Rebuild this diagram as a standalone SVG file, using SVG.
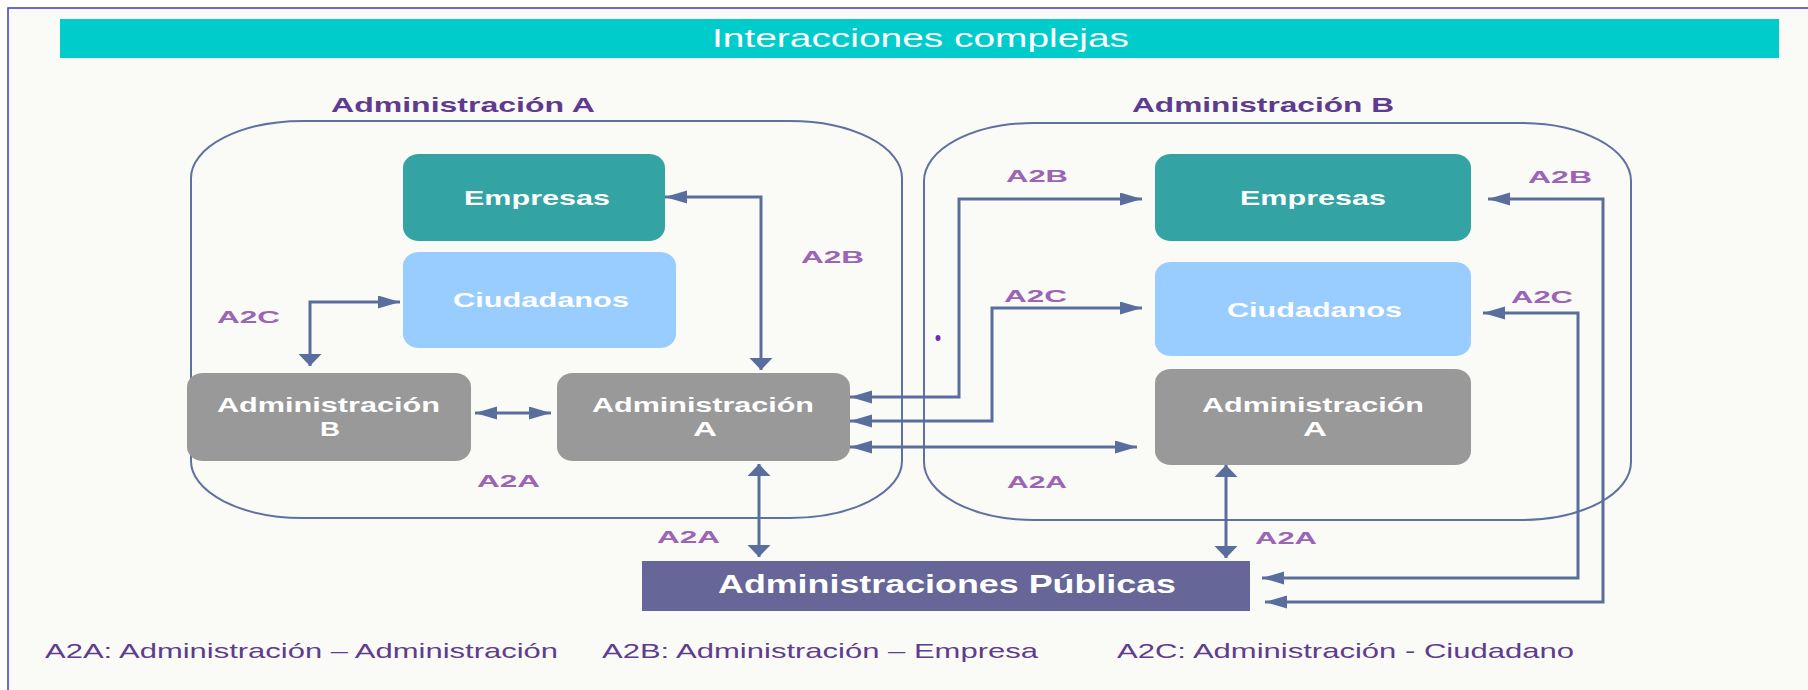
<svg xmlns="http://www.w3.org/2000/svg" width="1808" height="690" viewBox="0 0 1808 690">
  <defs>
    <marker id="ah" markerUnits="userSpaceOnUse" markerWidth="24" markerHeight="14" refX="22" refY="6.5" orient="auto-start-reverse">
      <path d="M0,0 L22,6.5 L0,13 z" fill="#5A6E9E"/>
    </marker>
    <marker id="av" markerUnits="userSpaceOnUse" markerWidth="14" markerHeight="24" refX="12" refY="11.5" orient="auto-start-reverse">
      <path d="M0,0 L12,11.5 L0,23 z" fill="#5A6E9E"/>
    </marker>
    <style>
      .conn { fill: none; stroke: #5A6E9E; stroke-width: 3; }
      .cont { fill: none; stroke: #6070A0; stroke-width: 2; }
      .nt { font-family: "Liberation Sans", Arial, sans-serif; font-weight: bold; fill: #FFFFFF; }
      .lbl { font-family: "Liberation Sans", Arial, sans-serif; font-weight: bold; font-size: 17px; fill: #9B64B4; }
      .clbl { font-family: "Liberation Sans", Arial, sans-serif; font-weight: bold; font-size: 21px; fill: #5E3B8E; }
      .leg { font-family: "Liberation Sans", Arial, sans-serif; font-size: 21px; fill: #5E3C8E; }
    </style>
  </defs>

  <rect x="0" y="0" width="1808" height="690" fill="#FFFFFF"/>
  <rect x="8" y="8" width="1800" height="682" fill="#FAFAF6"/>
  <path d="M8,690 V8 H1808" fill="none" stroke="#3A3ACC" stroke-width="1.5"/>

  <g id="banner">
    <rect x="60" y="19" width="1719" height="39" fill="#00CCCC"/>
    <text x="712" y="47" font-family="Liberation Sans, Arial, sans-serif" font-size="26" fill="#FFFFFF" textLength="417" lengthAdjust="spacingAndGlyphs">Interacciones complejas</text>
  </g>

  <g id="container-A">
    <rect class="cont" x="191" y="121" width="711" height="397" rx="112" ry="57"/>
    <text class="clbl" x="331" y="112" textLength="264" lengthAdjust="spacingAndGlyphs">Administración  A</text>
  </g>
  <g id="container-B">
    <rect class="cont" x="924" y="123" width="707" height="397" rx="110" ry="58"/>
    <text class="clbl" x="1132" y="112" textLength="262" lengthAdjust="spacingAndGlyphs">Administración  B</text>
  </g>

  <g id="connectors">
    <path class="conn" d="M310,366 V302 H400" marker-start="url(#av)" marker-end="url(#ah)"/>
    <path class="conn" d="M665,197 H761 V370" marker-start="url(#ah)" marker-end="url(#av)"/>
    <path class="conn" d="M475,413 H551" marker-start="url(#ah)" marker-end="url(#ah)"/>
    <path class="conn" d="M759,464 V557" marker-start="url(#av)" marker-end="url(#av)"/>
    <path class="conn" d="M850,397 H959 V199 H1142" marker-start="url(#ah)" marker-end="url(#ah)"/>
    <path class="conn" d="M850,421 H992 V308 H1142" marker-start="url(#ah)" marker-end="url(#ah)"/>
    <path class="conn" d="M850,447 H1137" marker-start="url(#ah)" marker-end="url(#ah)"/>
    <path class="conn" d="M1488,199 H1603 V602 H1265" marker-start="url(#ah)" marker-end="url(#ah)"/>
    <path class="conn" d="M1483,313 H1578 V578 H1262" marker-start="url(#ah)" marker-end="url(#ah)"/>
    <path class="conn" d="M1226,465 V558" marker-start="url(#av)" marker-end="url(#av)"/>
  </g>

  <g id="labels">
    <text class="lbl" x="217" y="323" textLength="63" lengthAdjust="spacingAndGlyphs">A2C</text>
    <text class="lbl" x="801" y="263" textLength="63" lengthAdjust="spacingAndGlyphs">A2B</text>
    <text class="lbl" x="477" y="487" textLength="63" lengthAdjust="spacingAndGlyphs">A2A</text>
    <text class="lbl" x="657" y="543" textLength="63" lengthAdjust="spacingAndGlyphs">A2A</text>
    <text class="lbl" x="1006" y="182" textLength="62" lengthAdjust="spacingAndGlyphs">A2B</text>
    <text class="lbl" x="1004" y="302" textLength="63" lengthAdjust="spacingAndGlyphs">A2C</text>
    <text class="lbl" x="1007" y="488" textLength="60" lengthAdjust="spacingAndGlyphs">A2A</text>
    <text class="lbl" x="1255" y="544" textLength="62" lengthAdjust="spacingAndGlyphs">A2A</text>
    <text class="lbl" x="1528" y="183" textLength="64" lengthAdjust="spacingAndGlyphs">A2B</text>
    <text class="lbl" x="1511" y="303" textLength="62" lengthAdjust="spacingAndGlyphs">A2C</text>
  </g>

  <g id="empresas-A">
    <rect x="403" y="154" width="262" height="87" rx="16" ry="14" fill="#33A3A3"/>
    <text class="nt" x="464" y="205" font-size="21" textLength="146" lengthAdjust="spacingAndGlyphs">Empresas</text>
  </g>
  <g id="ciudadanos-A">
    <rect x="403" y="252" width="273" height="96" rx="16" ry="14" fill="#99CCFF"/>
    <text class="nt" x="453" y="307" font-size="21" textLength="176" lengthAdjust="spacingAndGlyphs">Ciudadanos</text>
  </g>
  <g id="admB-A">
    <rect x="187" y="373" width="284" height="88" rx="16" ry="14" fill="#999999"/>
    <text class="nt" x="217" y="412" font-size="20" textLength="223" lengthAdjust="spacingAndGlyphs">Administración</text>
    <text class="nt" x="320" y="436" font-size="20" textLength="20" lengthAdjust="spacingAndGlyphs">B</text>
  </g>
  <g id="admA-A">
    <rect x="557" y="373" width="293" height="88" rx="16" ry="14" fill="#999999"/>
    <text class="nt" x="592" y="412" font-size="20" textLength="222" lengthAdjust="spacingAndGlyphs">Administración</text>
    <text class="nt" x="693" y="436" font-size="20" textLength="24" lengthAdjust="spacingAndGlyphs">A</text>
  </g>
  <g id="empresas-B">
    <rect x="1155" y="154" width="316" height="87" rx="16" ry="14" fill="#33A3A3"/>
    <text class="nt" x="1240" y="205" font-size="21" textLength="146" lengthAdjust="spacingAndGlyphs">Empresas</text>
  </g>
  <g id="ciudadanos-B">
    <rect x="1155" y="262" width="316" height="94" rx="16" ry="14" fill="#99CCFF"/>
    <text class="nt" x="1227" y="317" font-size="21" textLength="175" lengthAdjust="spacingAndGlyphs">Ciudadanos</text>
  </g>
  <g id="admA-B">
    <rect x="1155" y="369" width="316" height="96" rx="16" ry="14" fill="#999999"/>
    <text class="nt" x="1202" y="412" font-size="20" textLength="222" lengthAdjust="spacingAndGlyphs">Administración</text>
    <text class="nt" x="1303" y="436" font-size="20" textLength="24" lengthAdjust="spacingAndGlyphs">A</text>
  </g>
  <g id="adm-publicas">
    <rect x="642" y="561" width="608" height="50" fill="#666699"/>
    <text class="nt" x="718" y="593" font-size="25" textLength="458" lengthAdjust="spacingAndGlyphs">Administraciones Públicas</text>
  </g>

  <ellipse cx="938" cy="338" rx="2.5" ry="3" fill="#6A2FB0"/>

  <g id="legend">
    <text class="leg" x="45" y="658" textLength="513" lengthAdjust="spacingAndGlyphs">A2A: Administración – Administración</text>
    <text class="leg" x="602" y="658" textLength="436" lengthAdjust="spacingAndGlyphs">A2B: Administración – Empresa</text>
    <text class="leg" x="1117" y="658" textLength="457" lengthAdjust="spacingAndGlyphs">A2C: Administración - Ciudadano</text>
  </g>
</svg>
